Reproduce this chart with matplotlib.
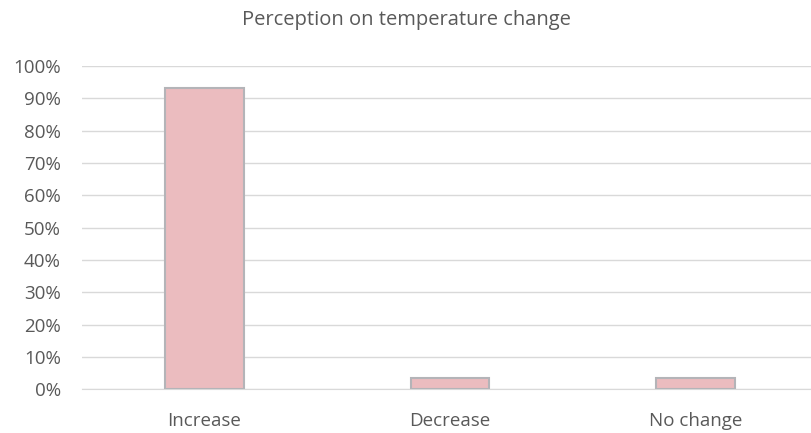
import matplotlib.pyplot as plt
from matplotlib.ticker import PercentFormatter

# Perception on temperature change
categorias = ['Increase', 'Decrease', 'No change']
percentuais = [0.932, 0.035, 0.035]
ticks_y = [i / 10 for i in range(11)]

plt.rcParams['font.family'] = ['Open Sans', 'DejaVu Sans']

fig = plt.figure(figsize=(8.12, 4.33), dpi=100)
# area do grafico (a linha de base vai ate a borda direita)
ax = fig.add_axes([0.1007, 0.1005, 0.907, 0.747])

x = range(len(categorias))
ax.bar(x, percentuais, width=0.32, color='#ebbcbf', edgecolor='#b4b4b8',
       linewidth=1.5, zorder=3)

ax.set_xlim(-0.5, len(categorias) - 0.5)
ax.set_ylim(0, 1)
ax.set_yticks(ticks_y)
ax.yaxis.set_major_formatter(PercentFormatter(1.0, decimals=0))
ax.set_xticks(list(x))
ax.set_xticklabels(categorias)

ax.grid(axis='y', color='#d9d9d9', linewidth=1, zorder=0)
for lado in ['top', 'right', 'left']:
    ax.spines[lado].set_visible(False)
ax.spines['bottom'].set_color('#d9d9d9')
ax.tick_params(axis='both', length=0, labelsize=13.5, colors='#595959')
ax.tick_params(axis='x', pad=16)
ax.tick_params(axis='y', pad=15)

fig.suptitle('Perception on temperature change', y=0.978, fontsize=14.5, color='#595959')

plt.savefig('out.png', dpi=100)
